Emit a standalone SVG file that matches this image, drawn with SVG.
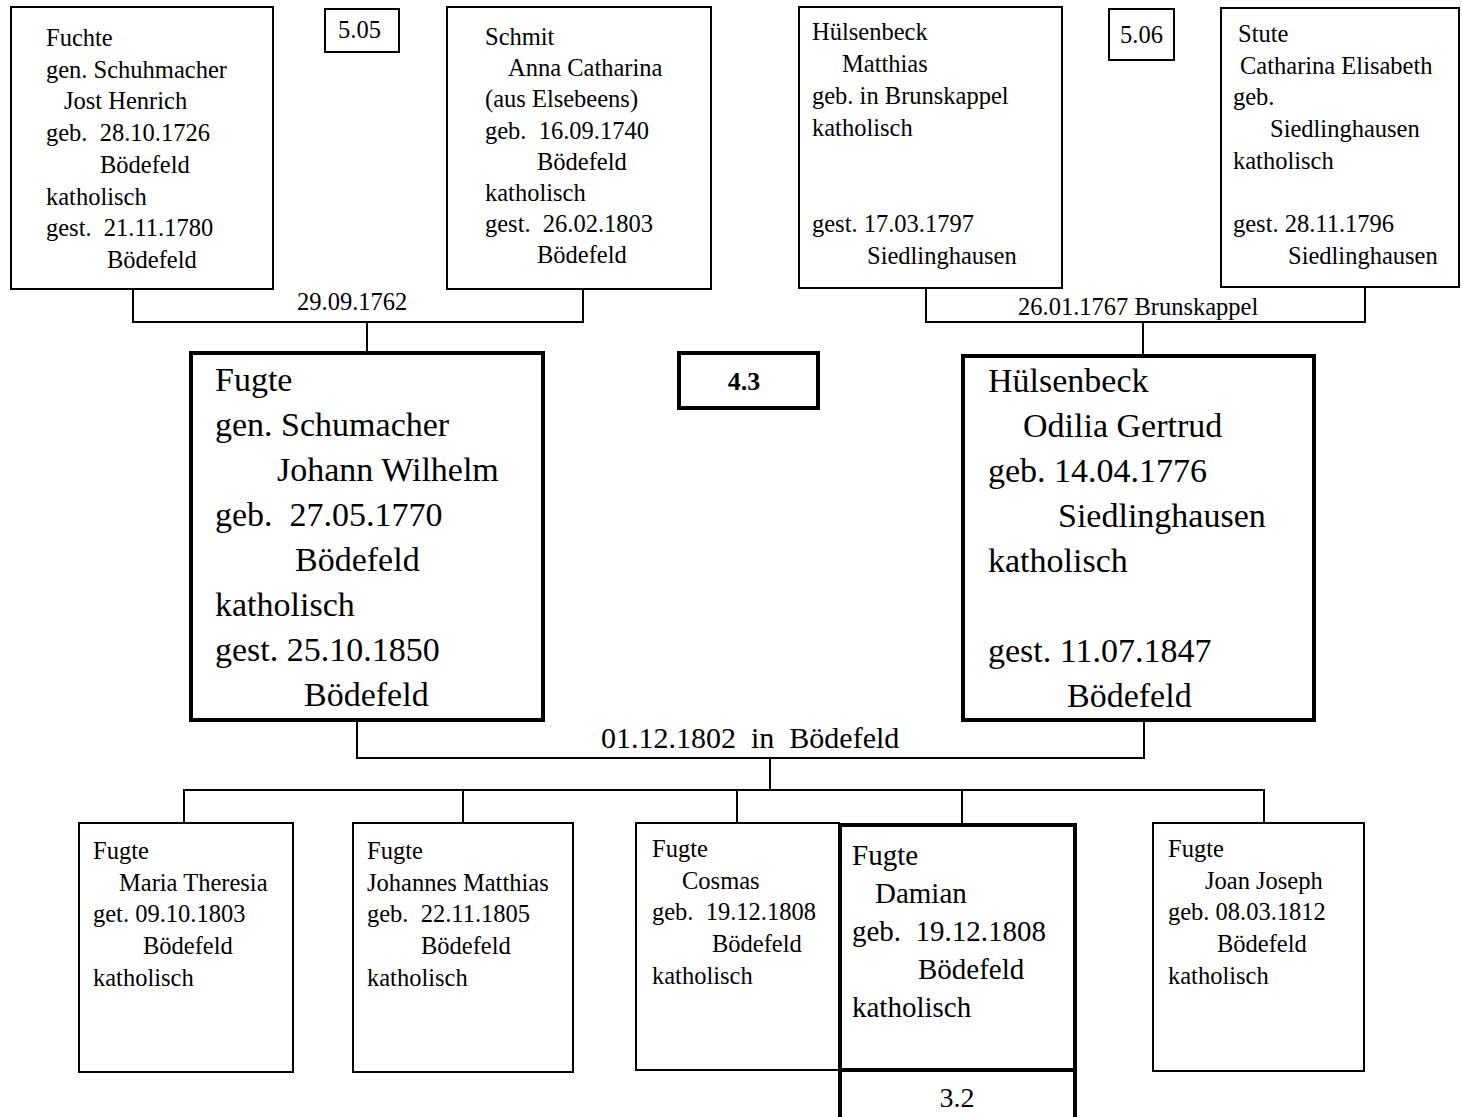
<svg xmlns="http://www.w3.org/2000/svg" width="1462" height="1117" viewBox="0 0 1462 1117" xml:space="preserve">
<style>
.bx{fill:#fff;stroke:#000;stroke-width:2}
.bk{fill:#fff;stroke:#000;stroke-width:4}
.c{fill:none;stroke:#000;stroke-width:2}
text{font-family:"Liberation Serif","Times New Roman",serif;fill:#000;white-space:pre}
.s{font-size:24.5px}
.m{font-size:29px}
.l{font-size:34px}
.b{font-size:26px;font-weight:bold}
</style>
<rect width="1462" height="1117" fill="#fff"/>
<g id="connectors">
<path class="c" d="M133,289 V322 H583 V289 M367,322 V353"/>
<path class="c" d="M926,288 V322 H1365 V287 M1143,322 V356"/>
<path class="c" d="M357,720 V758 H1144 V720 M770,758 V790"/>
<path class="c" d="M184,823 V790 H1264 V823 M463,790 V823 M737,790 V823 M962,790 V825"/>
<text class="s" x="297" y="310">29.09.1762</text>
<text class="s" x="1018" y="315">26.01.1767 Brunskappel</text>
<text x="601" y="748" style="font-size:30px">01.12.1802  in  Bödefeld</text>
</g>
<g id="n-fuchte">
<rect class="bx" x="11" y="7" width="262" height="282"/>
<text class="s" x="46" y="46">Fuchte</text>
<text class="s" x="46" y="77.7">gen. Schuhmacher</text>
<text class="s" x="64" y="109.4">Jost Henrich</text>
<text class="s" x="46" y="141.1">geb.  28.10.1726</text>
<text class="s" x="100" y="172.8">Bödefeld</text>
<text class="s" x="46" y="204.5">katholisch</text>
<text class="s" x="46" y="236.2">gest.  21.11.1780</text>
<text class="s" x="107" y="267.9">Bödefeld</text>
</g>
<g id="n-505">
<rect class="bx" x="325" y="9" width="74" height="43"/>
<text class="s" x="338" y="38">5.05</text>
</g>
<g id="n-schmit">
<rect class="bx" x="447" y="7" width="264" height="282"/>
<text class="s" x="485" y="45">Schmit</text>
<text class="s" x="508" y="76.2">Anna Catharina</text>
<text class="s" x="485" y="107.4">(aus Elsebeens)</text>
<text class="s" x="485" y="138.6">geb.  16.09.1740</text>
<text class="s" x="537" y="169.8">Bödefeld</text>
<text class="s" x="485" y="201">katholisch</text>
<text class="s" x="485" y="232.2">gest.  26.02.1803</text>
<text class="s" x="537" y="263.4">Bödefeld</text>
</g>
<g id="n-huelsenbeck-matthias">
<rect class="bx" x="799" y="7" width="263" height="281"/>
<text class="s" x="812" y="40">Hülsenbeck</text>
<text class="s" x="842" y="72">Matthias</text>
<text class="s" x="812" y="104">geb. in Brunskappel</text>
<text class="s" x="812" y="136">katholisch</text>
<text class="s" x="812" y="232">gest. 17.03.1797</text>
<text class="s" x="867" y="264">Siedlinghausen</text>
</g>
<g id="n-506">
<rect class="bx" x="1109" y="9" width="65" height="51"/>
<text class="s" x="1120" y="43">5.06</text>
</g>
<g id="n-stute">
<rect class="bx" x="1221" y="8" width="238" height="279"/>
<text class="s" x="1238" y="42">Stute</text>
<text class="s" x="1240" y="73.7">Catharina Elisabeth</text>
<text class="s" x="1233" y="105.4">geb.</text>
<text class="s" x="1270" y="137.1">Siedlinghausen</text>
<text class="s" x="1233" y="168.8">katholisch</text>
<text class="s" x="1233" y="232.2">gest. 28.11.1796</text>
<text class="s" x="1288" y="263.9">Siedlinghausen</text>
</g>
<g id="n-fugte-johann-wilhelm">
<rect class="bk" x="191" y="353" width="352" height="367"/>
<text class="l" x="215" y="391">Fugte</text>
<text class="l" x="215" y="436">gen. Schumacher</text>
<text class="l" x="277" y="481">Johann Wilhelm</text>
<text class="l" x="215" y="526">geb.  27.05.1770</text>
<text class="l" x="295" y="571">Bödefeld</text>
<text class="l" x="215" y="616">katholisch</text>
<text class="l" x="215" y="661">gest. 25.10.1850</text>
<text class="l" x="304" y="706">Bödefeld</text>
</g>
<g id="n-43">
<rect class="bk" x="679" y="353" width="139" height="55"/>
<text class="b" x="744" y="390" text-anchor="middle">4.3</text>
</g>
<g id="n-huelsenbeck-odilia">
<rect class="bk" x="963" y="356" width="351" height="364"/>
<text class="l" x="988" y="392">Hülsenbeck</text>
<text class="l" x="1023" y="437">Odilia Gertrud</text>
<text class="l" x="988" y="482">geb. 14.04.1776</text>
<text class="l" x="1058" y="527">Siedlinghausen</text>
<text class="l" x="988" y="572">katholisch</text>
<text class="l" x="988" y="662">gest. 11.07.1847</text>
<text class="l" x="1067" y="707">Bödefeld</text>
</g>
<g id="n-maria-theresia">
<rect class="bx" x="79" y="823" width="214" height="249"/>
<text class="s" x="93" y="859">Fugte</text>
<text class="s" x="119" y="890.7">Maria Theresia</text>
<text class="s" x="93" y="922.4">get. 09.10.1803</text>
<text class="s" x="143" y="954.1">Bödefeld</text>
<text class="s" x="93" y="985.8">katholisch</text>
</g>
<g id="n-johannes-matthias">
<rect class="bx" x="353" y="823" width="220" height="249"/>
<text class="s" x="367" y="859">Fugte</text>
<text class="s" x="367" y="890.7">Johannes Matthias</text>
<text class="s" x="367" y="922.4">geb.  22.11.1805</text>
<text class="s" x="421" y="954.1">Bödefeld</text>
<text class="s" x="367" y="985.8">katholisch</text>
</g>
<g id="n-cosmas">
<rect class="bx" x="636" y="823" width="203" height="247"/>
<text class="s" x="652" y="857">Fugte</text>
<text class="s" x="682" y="888.7">Cosmas</text>
<text class="s" x="652" y="920.4">geb.  19.12.1808</text>
<text class="s" x="712" y="952.1">Bödefeld</text>
<text class="s" x="652" y="983.8">katholisch</text>
</g>
<g id="n-damian">
<rect class="bk" x="840" y="825" width="235" height="245"/>
<text class="m" x="852" y="865">Fugte</text>
<text class="m" x="875" y="903">Damian</text>
<text class="m" x="852" y="941">geb.  19.12.1808</text>
<text class="m" x="918" y="979">Bödefeld</text>
<text class="m" x="852" y="1017">katholisch</text>
</g>
<g id="n-32">
<rect class="bk" x="840" y="1070" width="235" height="60"/>
<text x="957" y="1107" text-anchor="middle" style="font-size:28px">3.2</text>
</g>
<g id="n-joan-joseph">
<rect class="bx" x="1153" y="823" width="211" height="248"/>
<text class="s" x="1168" y="857">Fugte</text>
<text class="s" x="1205" y="888.7">Joan Joseph</text>
<text class="s" x="1168" y="920.4">geb. 08.03.1812</text>
<text class="s" x="1217" y="952.1">Bödefeld</text>
<text class="s" x="1168" y="983.8">katholisch</text>
</g>
</svg>
